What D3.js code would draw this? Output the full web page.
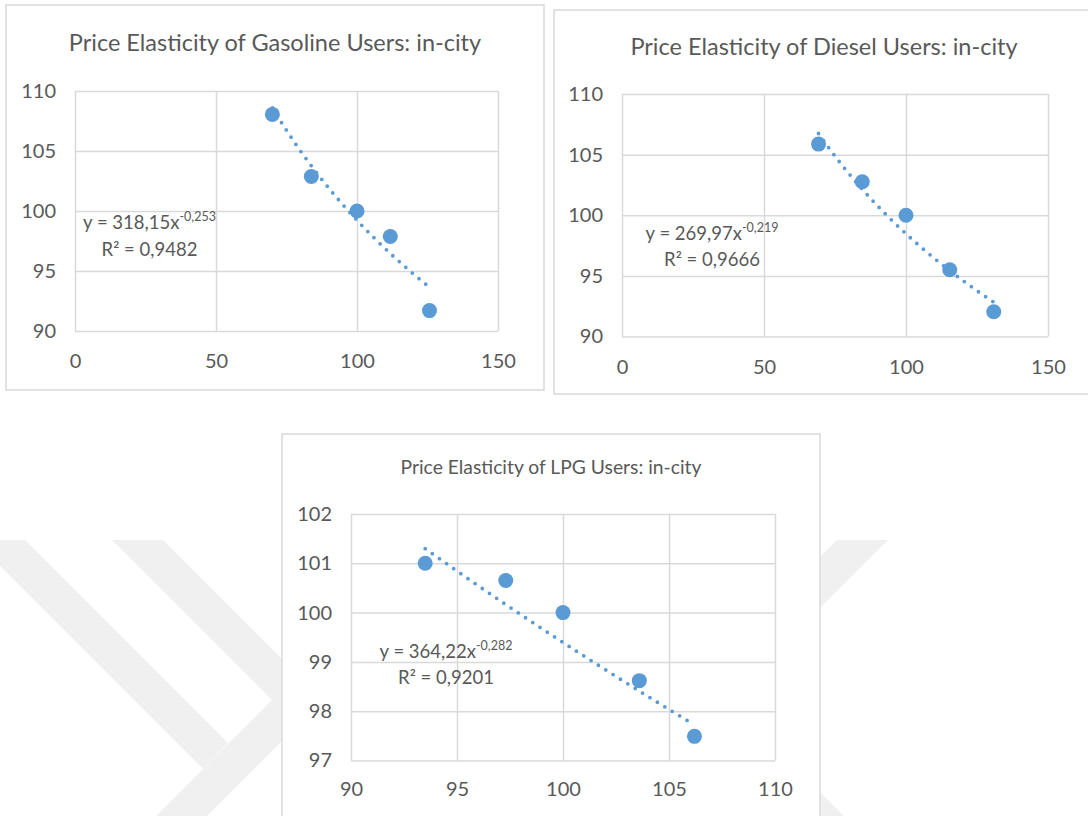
<!DOCTYPE html>
<html>
<head>
<meta charset="utf-8">
<script src="https://cdn.jsdelivr.net/npm/d3@7"></script>
<style>
body { margin: 0; background: #ffffff; }
text { font-family: Lato, "Open Sans", sans-serif; fill: #595959; }
</style>
</head>
<body>
<div id="my_dataviz"></div>
<script>
// values
var gasolineX = [70, 83.8, 100, 111.8, 125.7];
var gasolineY = [108.05, 102.87, 100, 97.87, 91.7];
var dieselX = [69.2, 84.6, 100, 115.4, 130.9];
var dieselY = [105.87, 102.76, 100, 95.5, 92.04];
var lpgX = [93.5, 97.3, 100, 103.6, 106.2];
var lpgY = [101.0, 100.65, 100, 98.62, 97.49];

var titles = ["Price Elasticity of Gasoline Users: in-city",
              "Price Elasticity of Diesel Users: in-city",
              "Price Elasticity of LPG Users: in-city"];
var xTicks = [[0, 50, 100, 150], [0, 50, 100, 150], [90, 95, 100, 105, 110]];
var yTicks = [[90, 95, 100, 105, 110], [90, 95, 100, 105, 110], [97, 98, 99, 100, 101, 102]];

// power trendline y = a * x^b, as printed on the chart
var trendA = [318.15, 269.97, 364.22];
var trendB = [-0.253, -0.219, -0.282];
var coefLabels = ["318,15", "269,97", "364,22"];
var expLabels = ["-0,253", "-0,219", "-0,282"];
var r2Labels = ["0,9482", "0,9666", "0,9201"];

var blue = "#5b9bd5";
var grid = "#d9d9d9";

var svg = d3.select("#my_dataviz")
  .append("svg")
  .attr("width", 1088)
  .attr("height", 816);

// faint watermark in the background
var wm = svg.append("g").attr("fill", "#f0f0f0");
wm.append("polygon").attr("points", "-26,540 25,540 228,743 203,769");
wm.append("polygon").attr("points", "112,540 163,540 323,700 207,816 156,816 272,700");
wm.append("polygon").attr("points", "888,540 837,540 677,700 793,816 844,816 728,700");

function drawChart(i, xs, ys, box, plot, opt) {
  var g = svg.append("g");

  // chart area
  g.append("rect")
    .attr("x", box.x).attr("y", box.y)
    .attr("width", box.w).attr("height", box.h)
    .attr("fill", "#ffffff")
    .attr("stroke", grid)
    .attr("stroke-width", 1.5);

  g.append("text")
    .attr("x", box.x + box.w / 2)
    .attr("y", opt.titleY)
    .attr("text-anchor", "middle")
    .style("font-size", opt.titleSize + "px")
    .text(titles[i]);

  var xDom = d3.extent(xTicks[i]);
  var yDom = d3.extent(yTicks[i]);
  var x = d3.scaleLinear().domain(xDom).range([plot.left, plot.right]);
  var y = d3.scaleLinear().domain(yDom).range([plot.bottom, plot.top]);
  var w = plot.right - plot.left, h = plot.bottom - plot.top;

  // X axis + vertical gridlines
  var gx = g.append("g")
    .attr("transform", "translate(0," + plot.bottom + ")")
    .call(d3.axisBottom(x).tickValues(xTicks[i]).tickFormat(d3.format("d"))
      .tickSize(-h).tickSizeOuter(0).tickPadding(opt.xPad));
  // Y axis + horizontal gridlines
  var gy = g.append("g")
    .attr("transform", "translate(" + plot.left + ",0)")
    .call(d3.axisLeft(y).tickValues(yTicks[i]).tickFormat(d3.format("d"))
      .tickSize(-w).tickSizeOuter(0).tickPadding(19));

  [gx, gy].forEach(function (a) {
    a.select(".domain").remove();
    a.selectAll("line").attr("stroke", grid).attr("stroke-width", 1.5);
    a.selectAll("text")
      .style("font-family", "Lato, sans-serif")
      .style("font-size", opt.tickSize + "px")
      .attr("fill", "#595959");
  });

  // trendline (dotted)
  var lo = d3.min(xs), hi = d3.max(xs);
  var tx = d3.range(0, 61).map(function (k) { return lo + (hi - lo) * k / 60; });
  g.append("path")
    .datum(tx)
    .attr("fill", "none")
    .attr("stroke", blue)
    .attr("stroke-width", 3.8)
    .attr("stroke-linecap", "round")
    .attr("stroke-dasharray", "0 8.7")
    .attr("d", d3.line()
      .x(function (d) { return x(d); })
      .y(function (d) { return y(trendA[i] * Math.pow(d, trendB[i])); }));

  // points
  g.append("g")
    .selectAll("circle")
    .data(xs)
    .enter()
    .append("circle")
    .attr("cx", function (d) { return x(d); })
    .attr("cy", function (d, j) { return y(ys[j]); })
    .attr("r", 7.5)
    .attr("fill", blue);

  // equation label
  var eq = g.append("text")
    .attr("x", opt.eqX).attr("y", opt.eqY)
    .attr("text-anchor", "middle")
    .style("font-size", opt.eqSize + "px");
  eq.append("tspan").text("y = " + coefLabels[i] + "x");
  eq.append("tspan").attr("dy", -8).style("font-size", "12.5px").text(expLabels[i]);

  g.append("text")
    .attr("x", opt.eqX).attr("y", opt.eqY + opt.eqGap)
    .attr("text-anchor", "middle")
    .style("font-size", opt.eqSize + "px")
    .text("R\u00B2 = " + r2Labels[i]);
}

drawChart(0, gasolineX, gasolineY,
  {x: 6, y: 5, w: 538, h: 385},
  {left: 75, right: 498, top: 91, bottom: 331},
  {titleY: 51, titleSize: 23.5, tickSize: 20, xPad: 23, eqX: 149.5, eqY: 229, eqGap: 26.5, eqSize: 18.5});

drawChart(1, dieselX, dieselY,
  {x: 554, y: 10, w: 540, h: 384},
  {left: 622, right: 1048, top: 94, bottom: 336.5},
  {titleY: 55, titleSize: 23.5, tickSize: 20, xPad: 23, eqX: 712, eqY: 240, eqGap: 25.5, eqSize: 18.5});

drawChart(2, lpgX, lpgY,
  {x: 282, y: 434, w: 538, h: 400},
  {left: 351, right: 775, top: 514, bottom: 760.5},
  {titleY: 474, titleSize: 19.3, tickSize: 20, xPad: 21, eqX: 446, eqY: 658, eqGap: 26, eqSize: 18.5});
</script>
</body>
</html>
